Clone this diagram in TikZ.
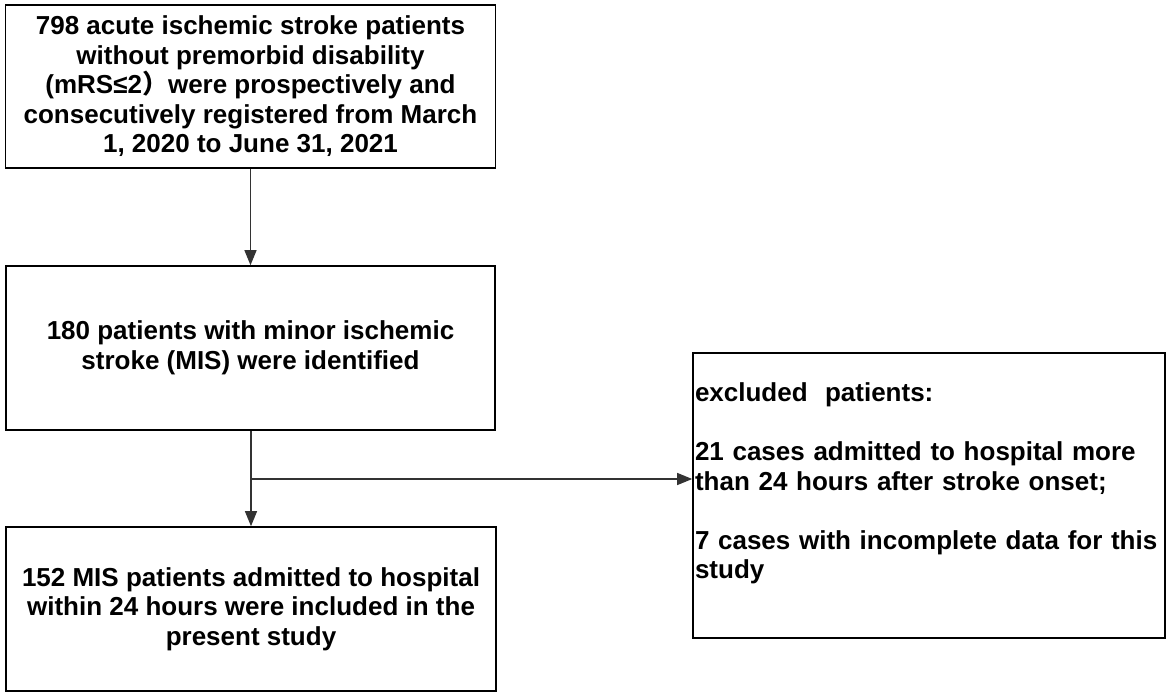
\documentclass[tikz,border=0pt]{standalone}
\usepackage{xcolor}
\usepackage{fontspec}
\setmainfont{Liberation Sans}
\newfontfamily\cjkfont{Noto Sans CJK SC}
\usepackage{tikz}
\usetikzlibrary{arrows.meta}

\begin{document}
\begin{tikzpicture}[x=1pt, y=-1pt, every node/.style={draw=black, line width=1.6pt, rectangle, font=\bfseries\fontsize{26}{29.5}\selectfont, inner sep=0pt}]
	\useasboundingbox (0,0) rectangle (1170,696);
	% Nodes
	\node[minimum width=490pt, minimum height=163pt, align=center] (enrolled) at (250.5,86.5) {798 acute ischemic stroke patients\\without premorbid disability\\(mRS≤2{\cjkfont ）}were prospectively and\\consecutively registered from March\\1, 2020 to June 31, 2021};
	\node[minimum width=489pt, minimum height=164pt, align=center] (mis) at (250.5,348) {180 patients with minor ischemic\\stroke (MIS) were identified};
	\node[minimum width=490pt, minimum height=164pt, align=center] (included) at (251,609) {152 MIS patients admitted to hospital\\within 24 hours were included in the\\present study};
	\node[minimum width=472pt, minimum height=285pt, text width=468pt, align=left] (excluded) at (929,495.5) {excluded\ \ patients:\\[29.5pt]21 cases admitted to hospital more\\than 24 hours after stroke onset;\\[29.5pt]7 cases with incomplete data for this\\study\\\mbox{}};
	\coordinate (split) at (251,479);
	% Edges
	\draw[-{Triangle[length=15pt, width=12pt]}, line width=1.2pt, black!80] (enrolled) -- (mis);
	\draw[-{Triangle[length=15pt, width=12pt]}, line width=1.2pt, black!80] (mis.south -| split) -- (included.north -| split);
	\draw[-{Triangle[length=15pt, width=12pt]}, line width=1.2pt, black!80] (split) -- (split -| excluded.west);
\end{tikzpicture}
\end{document}
